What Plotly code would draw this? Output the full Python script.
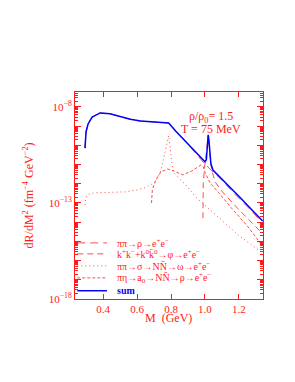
import plotly.graph_objects as go

# ---------------- data ----------------
sum_M = [0.293, 0.299, 0.311, 0.335, 0.382, 0.44, 0.50, 0.56, 0.62, 0.68, 0.74, 0.786,
         0.827, 0.887, 0.946, 0.976, 1.0, 1.008, 1.014, 1.019, 1.023, 1.028, 1.035,
         1.047, 1.09, 1.15, 1.21, 1.27, 1.34]
sum_R = [7.2e-11, 5.0e-10, 1.3e-9, 3.0e-9, 4.9e-9, 4.4e-9, 3.2e-9, 2.3e-9, 1.86e-9,
         1.74e-9, 1.66e-9, 1.48e-9, 5.6e-10, 1.6e-10, 4.5e-11, 2.5e-11, 1.4e-11, 1.8e-11,
         7.9e-11, 3.5e-10, 2.0e-10, 4.0e-11, 1.1e-11, 5.2e-12, 2.2e-12, 6.0e-13, 1.8e-13,
         5.0e-14, 1.15e-14]

rho_M = [0.293, 0.299, 0.311, 0.335, 0.382, 0.44, 0.50, 0.56, 0.62, 0.68, 0.74, 0.786,
         0.827, 0.887, 0.946, 1.0, 1.05, 1.09, 1.15, 1.21, 1.27, 1.34]
rho_R = [7.2e-11, 5.0e-10, 1.3e-9, 3.0e-9, 4.9e-9, 4.4e-9, 3.2e-9, 2.3e-9, 1.86e-9,
         1.74e-9, 1.66e-9, 1.48e-9, 5.6e-10, 1.55e-10, 3.8e-11, 1.05e-11, 4.0e-12,
         1.9e-12, 5.0e-13, 1.5e-13, 4.2e-14, 8.9e-15]

phi_M = [0.988, 0.99, 0.997, 1.005, 1.012, 1.019, 1.024, 1.03, 1.04, 1.06, 1.1, 1.2, 1.34]
phi_R = [1.6e-14, 1.0e-12, 6.3e-12, 2.0e-11, 7.9e-11, 3.2e-10, 1.6e-10, 2.5e-11,
         5.0e-12, 1.26e-12, 4.0e-13, 4.5e-14, 2.5e-15]

omega_M = [0.293, 0.297, 0.31, 0.35, 0.45, 0.53, 0.6, 0.65, 0.69, 0.71, 0.74, 0.76,
           0.775, 0.786, 0.795, 0.805, 0.815, 0.85, 0.887, 0.946, 1.017, 1.1, 1.2, 1.34]
omega_R = [7.9e-14, 1.8e-13, 2.8e-13, 3.4e-13, 3.6e-13, 3.8e-13, 4.8e-13, 6.3e-13,
           1.0e-12, 1.26e-12, 5.0e-12, 2.5e-11, 1.1e-10, 3.2e-10, 6.3e-11, 1.26e-11,
           4.0e-12, 1.8e-12, 8.9e-13, 2.0e-13, 5.6e-14, 1.26e-14, 2.0e-15, 2.5e-16]

a0_M = [0.685, 0.69, 0.71, 0.74, 0.78, 0.82, 0.869, 0.92, 0.976, 0.99, 1.0, 1.03,
        1.08, 1.15, 1.25, 1.34]
a0_R = [1.0e-13, 5.0e-13, 1.6e-12, 4.2e-12, 5.9e-12, 4.5e-12, 2.9e-12, 4.5e-12,
        9.5e-12, 7.9e-12, 4.0e-12, 1.1e-12, 3.5e-13, 6.3e-14, 6.3e-15, 5.6e-16]

legend_labels = [
    "\u03c0\u03c0\u2192\u03c1\u2192e<sup>+</sup>e<sup>\u2212</sup>",
    "k<sup>+</sup>k<sup>\u2212</sup>+k<sup>0</sup>k\u0304<sup>0</sup>\u2192\u03c6\u2192e<sup>+</sup>e<sup>\u2212</sup>",
    "\u03c0\u03c0\u2192\u03c3\u2192NN\u0304\u2192\u03c9\u2192e<sup>+</sup>e<sup>\u2212</sup>",
    "\u03c0\u03b7\u2192a<sub>0</sub>\u2192NN\u0304\u2192\u03c1\u2192e<sup>+</sup>e<sup>\u2212</sup>",
    "<b>sum</b>",
]
x_ticks = [0.4, 0.6, 0.8, 1.0, 1.2]
x_ticktext = ["0.4", "0.6", "0.8", "1.0", "1.2"]

# ---------------- styling ----------------
RED = "#ff1a1a"
LRED = "#ff4d4d"
BLUE = "#0000ff"
FONT = "Liberation Serif"

series = [
    (rho_M, rho_R, LRED, "8px,5px", 1.0),
    (phi_M, phi_R, LRED, "6px,4px", 1.0),
    (omega_M, omega_R, LRED, "1px,3px", 1.0),
    (a0_M, a0_R, LRED, "3px,2px", 1.0),
    (sum_M, sum_R, BLUE, "solid", 1.5),
]

fig = go.Figure()
for m, r, col, dash, w in series:
    fig.add_trace(go.Scatter(x=m, y=r, mode="lines", showlegend=False,
                             line=dict(color=col, dash=dash, width=w)))

# manual legend (samples + labels), positioned in paper coords
leg_y = [0.271, 0.218, 0.16, 0.102, 0.04]
for (m, r, col, dash, w), lab, yy in zip(series, legend_labels, leg_y):
    fig.add_shape(type="line", xref="paper", yref="paper", x0=0.012, x1=0.17,
                  y0=yy, y1=yy, line=dict(color=col, dash=dash, width=w))
    fig.add_annotation(xref="paper", yref="paper", x=0.213, y=yy, xanchor="left",
                       yanchor="middle", showarrow=False, text=lab,
                       font=dict(family=FONT, size=10, color=(BLUE if col == BLUE else RED)))

fig.add_annotation(xref="paper", yref="paper", x=0.723, y=0.879, showarrow=False,
                   text="\u03c1/\u03c1<sub>0</sub>= 1.5", xanchor="center", yanchor="middle",
                   font=dict(family=FONT, size=12, color=RED))
fig.add_annotation(xref="paper", yref="paper", x=0.723, y=0.821, showarrow=False,
                   text="T = 75 MeV", xanchor="center", yanchor="middle",
                   font=dict(family=FONT, size=12, color=RED))

# axis titles as annotations
fig.add_annotation(xref="paper", yref="paper", x=0.495, y=-0.092, showarrow=False,
                   text="M  (GeV)", xanchor="center", yanchor="middle",
                   font=dict(family=FONT, size=12, color=RED))
fig.add_annotation(xref="paper", yref="paper", x=-0.245, y=0.5, showarrow=False,
                   textangle=-90, xanchor="center", yanchor="middle",
                   text="dR/dM<sup>2</sup> (fm<sup>\u22124</sup> GeV<sup>\u22122</sup>)",
                   font=dict(family=FONT, size=12, color=RED))

major_y = [10.0 ** e for e in range(-18, -7)]
major_text = []
for e in range(-18, -7):
    major_text.append("10<sup>\u2212%d</sup>" % (-e) if e in (-18, -13, -8) else "")
minor_y = [k * 10.0 ** e for e in range(-18, -7) for k in range(2, 10)]

fig.update_layout(
    width=295, height=382,
    margin=dict(l=67, r=40, t=84, b=91, autoexpand=False),
    paper_bgcolor="white", plot_bgcolor="white",
    font=dict(family=FONT, color=RED, size=11),
    xaxis=dict(range=[0.234, 1.342], tickvals=x_ticks, ticktext=x_ticktext,
               automargin=False,
               ticks="inside", ticklen=5, tickcolor=RED, showline=True, linecolor=RED,
               linewidth=1, mirror="allticks", showgrid=False, zeroline=False,
               tickfont=dict(family=FONT, size=11, color=RED)),
    yaxis=dict(type="log", range=[-18, -7.22], tickvals=major_y, ticktext=major_text,
               automargin=False,
               ticks="inside", ticklen=6, tickcolor=RED, showline=True, linecolor=RED,
               linewidth=1, mirror="allticks", showgrid=False, zeroline=False,
               tickfont=dict(family=FONT, size=11, color=RED),
               minor=dict(tickvals=minor_y, ticks="inside", ticklen=3, tickcolor=RED)),
)

fig.write_html("out.html")
